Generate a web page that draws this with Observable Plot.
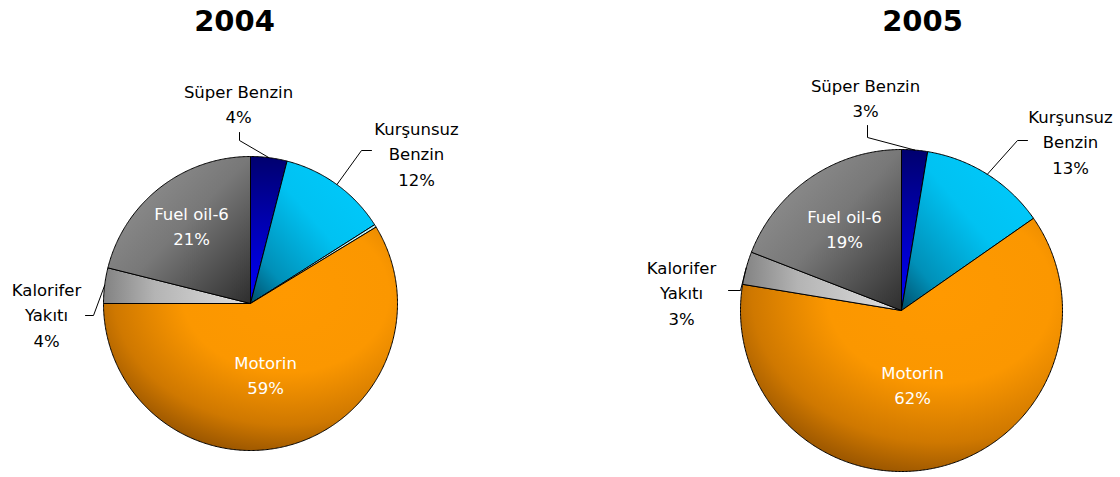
<!DOCTYPE html>
<html><head><meta charset="utf-8">
<script src="https://cdn.jsdelivr.net/npm/d3@7"></script>
<script src="https://cdn.jsdelivr.net/npm/@observablehq/plot@0.6"></script>
<style>body{margin:0;background:#fff;}</style>
</head><body><div id="chart"></div>
<script>
// ---- data ----
const years = ["2004", "2005"];
const categories = ["Süper Benzin", "Kurşunsuz Benzin", "Diğer", "Motorin", "Kalorifer Yakıtı", "Fuel oil-6"];
const values2004 = [4.0, 12.0, 0.3, 58.7, 3.9, 21.1];
const values2005 = [2.6, 12.7, 0.0, 62.3, 3.3, 19.1];
const labelLines = [["Süper Benzin"], ["Kurşunsuz", "Benzin"], [], ["Motorin"], ["Kalorifer", "Yakıtı"], ["Fuel oil-6"]];

// ---- layout / style (not data) ----
const W = 1120, H = 477;
const layout = {
  "2004": {cx: 250, cy: 303, r: 147, title: [234, 30],
    labels: {"Süper Benzin": [238, 97], "Kurşunsuz Benzin": [416, 134], "Motorin": [265, 368], "Kalorifer Yakıtı": [46, 295], "Fuel oil-6": [191, 219]},
    leaders: {"Süper Benzin": [[239, 132], [239, 140]], "Kurşunsuz Benzin": [[371, 150], [361, 150]], "Kalorifer Yakıtı": [[85, 315], [93, 315]]}},
  "2005": {cx: 901, cy: 310, r: 161, title: [922, 30],
    labels: {"Süper Benzin": [865, 91], "Kurşunsuz Benzin": [1070, 122], "Motorin": [912, 378], "Kalorifer Yakıtı": [681, 273], "Fuel oil-6": [844, 222]},
    leaders: {"Süper Benzin": [[867, 125], [867, 137]], "Kurşunsuz Benzin": [[1027, 140], [1017, 140]], "Kalorifer Yakıtı": [[728, 290], [740, 290]]}}
};
const insideLabels = new Set(["Motorin", "Fuel oil-6"]);
const lineH = 25.5;
const gradIds = ["gSuper", "gKurs", "gDiger", "gMotorin", "gKal", "gFuel"];

const valuesByYear = {"2004": values2004, "2005": values2005};

const slicePts = [], labelRows = [], leaderPts = [], titleRows = [];
for (const year of years) {
  const L = layout[year];
  const vals = valuesByYear[year];
  const arcs = d3.pie().sort(null).value(d => d)(vals);
  arcs.forEach((a, i) => {
    if (a.endAngle - a.startAngle <= 0) return;
    const key = year + "-" + i;
    const P = (ang, rr) => ({x: L.cx + rr * Math.sin(ang), y: L.cy - rr * Math.cos(ang)});
    slicePts.push({key, fill: `url(#${gradIds[i]})`, ...P(0, 0)});
    const n = Math.max(2, Math.ceil((a.endAngle - a.startAngle) / (Math.PI / 360)));
    for (let k = 0; k <= n; k++) {
      const ang = a.startAngle + (a.endAngle - a.startAngle) * k / n;
      slicePts.push({key, fill: `url(#${gradIds[i]})`, ...P(ang, L.r)});
    }
    slicePts.push({key, fill: `url(#${gradIds[i]})`, ...P(0, 0)});
    const cat = categories[i];
    const pos = L.labels[cat];
    if (pos) {
      const lines = [...labelLines[i], Math.round(vals[i]) + "%"];
      lines.forEach((t, j) => labelRows.push({x: pos[0], y: pos[1] + j * lineH, text: t, inside: insideLabels.has(cat)}));
    }
    const ld = L.leaders[cat];
    if (ld) {
      const mid = (a.startAngle + a.endAngle) / 2;
      ld.forEach(p => leaderPts.push({key, x: p[0], y: p[1]}));
      leaderPts.push({key, ...P(mid, L.r)});
    }
  });
  titleRows.push({x: L.title[0], y: L.title[1], text: year});
}

function defs() {
  const svg = d3.create("svg:defs");
  const lin = (id, x1, y1, x2, y2, stops) => {
    const g = svg.append("linearGradient").attr("id", id).attr("x1", x1).attr("y1", y1).attr("x2", x2).attr("y2", y2);
    stops.forEach(([o, c]) => g.append("stop").attr("offset", o).attr("stop-color", c));
  };
  lin("gSuper", 0.5, 0, 0.5, 1, [[0, "#00006e"], [0.5, "#0000b8"], [1, "#0000ff"]]);
  lin("gKurs", 1, 0, 0, 1, [[0, "#00ccff"], [0.45, "#00c2f2"], [0.8, "#0090b8"], [1, "#004e6a"]]);
  lin("gDiger", 0, 0, 1, 1, [[0, "#ccffff"], [1, "#aee8ee"]]);
  lin("gKal", 0, 0, 1, 0, [[0, "#828282"], [0.35, "#b4b4b4"], [1, "#e0e0e0"]]);
  lin("gFuel", 0, 0, 1, 1, [[0, "#9a9a9a"], [0.5, "#787878"], [1, "#2e2e2e"]]);
  const r = svg.append("radialGradient").attr("id", "gMotorin").attr("cx", 0.62).attr("cy", 0.3).attr("r", 0.78);
  [[0, "#ff9900"], [0.45, "#fb9700"], [0.75, "#cf7800"], [1, "#854800"]].forEach(([o, c]) => r.append("stop").attr("offset", o).attr("stop-color", c));
  return svg.node();
}

const chart = Plot.plot({
  width: W, height: H,
  margin: 0,
  x: {domain: [0, W], range: [0, W], axis: null},
  y: {domain: [0, H], range: [0, H], axis: null},
  style: {fontFamily: "'DejaVu Sans', Verdana, sans-serif", background: "#fff"},
  marks: [
    defs,
    Plot.line(slicePts, {x: "x", y: "y", z: "key", fill: "fill", stroke: "#000", strokeWidth: 1, strokeLinejoin: "round"}),
    Plot.line(leaderPts, {x: "x", y: "y", z: "key", stroke: "#000", strokeWidth: 1}),
    Plot.text(labelRows, {x: "x", y: "y", text: "text", fill: d => d.inside ? "#ffffff" : "#000000", fontSize: 16.5, lineAnchor: "bottom", textAnchor: "middle"}),
    Plot.text(titleRows, {x: "x", y: "y", text: "text", fill: "#000", fontSize: 29, fontWeight: "bold", lineAnchor: "bottom", textAnchor: "middle"})
  ]
});
document.getElementById("chart").appendChild(chart);
</script>
</body></html>
